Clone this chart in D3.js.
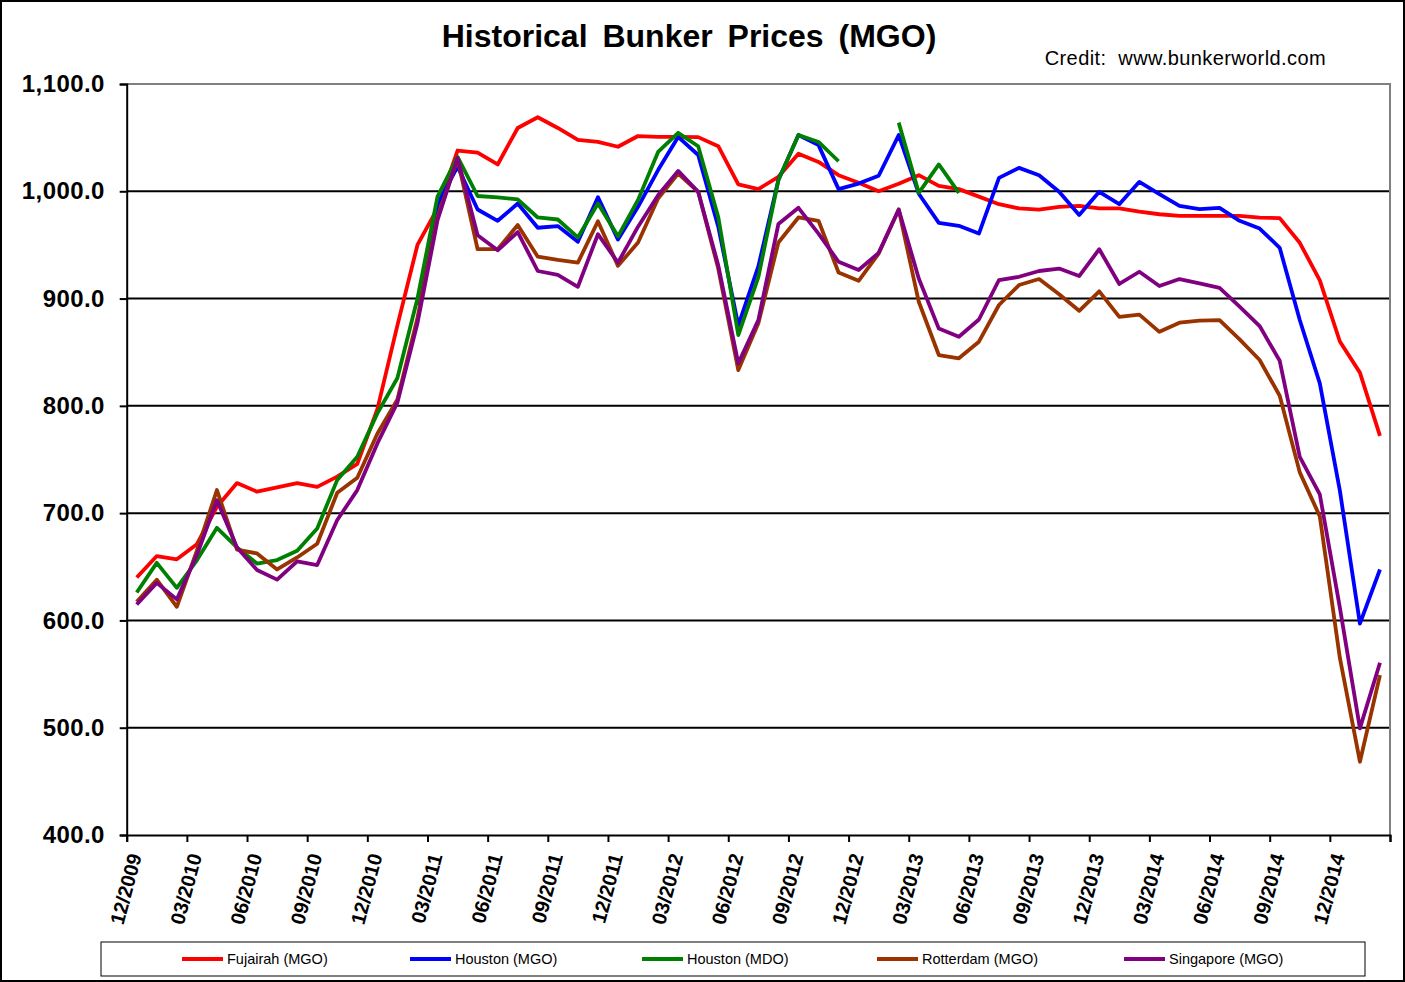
<!DOCTYPE html>
<html><head><meta charset="utf-8">
<script src="https://cdn.jsdelivr.net/npm/d3@7"></script>
<style>
body{margin:0;background:#fff;}
svg{display:block;font-family:Arial,"Liberation Sans",sans-serif;}
</style>
</head><body>
<svg id="c" width="1405" height="982"></svg>
<script>
const months = ["12/2009","01/2010","02/2010","03/2010","04/2010","05/2010","06/2010","07/2010","08/2010","09/2010","10/2010","11/2010",
"12/2010","01/2011","02/2011","03/2011","04/2011","05/2011","06/2011","07/2011","08/2011","09/2011","10/2011","11/2011",
"12/2011","01/2012","02/2012","03/2012","04/2012","05/2012","06/2012","07/2012","08/2012","09/2012","10/2012","11/2012",
"12/2012","01/2013","02/2013","03/2013","04/2013","05/2013","06/2013","07/2013","08/2013","09/2013","10/2013","11/2013",
"12/2013","01/2014","02/2014","03/2014","04/2014","05/2014","06/2014","07/2014","08/2014","09/2014","10/2014","11/2014",
"12/2014","01/2015","02/2015"];

const fujairahMGO = [640,660,657,671,706,728,720,724,728,724.5,734,746,
797,875,950,984,1038,1036,1025,1059,1069,1059,1048,1046,
1041.5,1051.5,1050.7,1050.7,1050.5,1042,1006.5,1002,1013.5,1035,1027.4,1015,
1008,1000,1007,1015,1005,1002,995,988,984,983,985.5,986.4,
984,984,981,978.6,977,977,977,977,975.5,975,952,917,
860,831,772];

const houstonMGO = [null,null,null,null,null,null,null,null,null,null,null,null,
null,null,894,988,1023,983,972.5,988.6,966,967.6,953,994.5,
955,985.5,1019.8,1050.7,1033.8,967,875,930,1010.5,1052.4,1043,1002,
1007.2,1014.5,1052.4,997.7,970.5,967.8,960.6,1012.5,1021.8,1015,999.5,978,
999.5,988,1008.8,997.4,986.5,983.4,984.6,972.5,965.3,947.3,880,821,
721,597,647.5];

const houstonMDO = [626,653.7,630.4,656,686.3,668,653,656.3,665,685.7,731,752.5,
793,826,900,995,1032,995.6,994.3,992.4,975.6,973.7,957,988.6,
958,992,1036.7,1054.5,1042,976,866,920,1010.5,1052.4,1046,1028,
null,null,1064,998.5,1025,998.5,null,null,null,null,null,null,
null,null,null,null,null,null,null,null,null,null,null,null,
null,null,null];

const rotterdamMGO = [617.4,638,612.7,665,721.5,666,662.4,647.5,658.7,671.5,719,733,
774,806,882,976,1030,946,946,968.5,939,936,933.5,972,
930.5,952.3,993.3,1016.6,999.5,928,833.4,877,952.3,975.6,972.5,924.3,
916.5,942,983,897,847.4,844.3,859.8,894,912.6,918.2,904,888.6,
906.7,883,885,869,877.5,879.4,880,862,842.7,809.4,738,697,
565,468.3,549];

const singaporeMGO = [614.8,635,619.6,661,712,668,647,638,655,651.6,693.6,721.5,
765,803,877,973,1031,959,945,962,925.7,922,911,960,
933.5,967,996.4,1019,999.5,931,839.6,880,969.5,984.6,960.6,934.3,
926.6,942.6,983,918.7,872,864.4,880.5,917.3,920.3,925.7,928,921,
946,913.6,925,911.7,918.2,914.2,910,892.4,874.4,842,752.5,717.4,
612,499.4,560.5];

const seriesNames = ["Fujairah (MGO)","Houston (MGO)","Houston (MDO)","Rotterdam (MGO)","Singapore (MGO)"];
const seriesColors = ["#FF0000","#0000FF","#008000","#993300","#800080"];
const seriesValues = [fujairahMGO, houstonMGO, houstonMDO, rotterdamMGO, singaporeMGO];
const drawOrder = [0,1,2,3,4];

const yTicks = [400,500,600,700,800,900,1000,1100];
const gridVals = [500,600,700,800,900,1000];

const W = 1405, H = 982;
const m = {l:126.7, r:1390, t:84, b:835};

const svg = d3.select("#c");
svg.append("rect").attr("x",1).attr("y",1).attr("width",W-2).attr("height",H-2)
  .attr("fill","#fff").attr("stroke","#000").attr("stroke-width",2);

const x = d3.scaleLinear().domain([0, months.length]).range([m.l, m.r]);
const y = d3.scaleLinear().domain([400, 1100]).range([m.b, m.t]);

// gridlines
svg.append("g").selectAll("line").data(gridVals).join("line")
  .attr("x1", m.l).attr("x2", m.r)
  .attr("y1", d => y(d)).attr("y2", d => y(d))
  .attr("stroke", "#000").attr("stroke-width", 2);

// plot border top/right
svg.append("path")
  .attr("d", `M${m.l},${y(1100)}H${m.r}V${m.b}`)
  .attr("fill","none").attr("stroke","#808080").attr("stroke-width",2);

// series
const line = d3.line()
  .defined(d => d.v != null)
  .x(d => x(d.i + 0.5))
  .y(d => y(d.v));

drawOrder.forEach(k => {
  const data = seriesValues[k].map((v,i) => ({i, v}));
  svg.append("path").datum(data)
    .attr("d", line)
    .attr("fill","none")
    .attr("stroke", seriesColors[k])
    .attr("stroke-width", 3.8)
    .attr("stroke-linejoin","round");
});

// y axis
const yAxis = d3.axisLeft(y).tickValues(yTicks).tickFormat(d3.format(",.1f")).tickSize(7).tickPadding(15);
const gy = svg.append("g").attr("transform", `translate(${m.l},0)`).call(yAxis);
gy.select(".domain").attr("stroke","#000").attr("stroke-width",2);
gy.selectAll(".tick line").attr("stroke","#000").attr("stroke-width",2);
gy.selectAll(".tick text").attr("font-size",24).attr("font-weight","bold").attr("fill","#000")
  .attr("letter-spacing","0.4px")
  .attr("font-family","Arial, 'Liberation Sans', sans-serif");

// x axis
const xAxis = d3.axisBottom(x).tickValues(d3.range(0, months.length + 1, 3))
  .tickFormat(i => months[i] || "").tickSize(7);
const gx = svg.append("g").attr("transform", `translate(0,${m.b})`).call(xAxis);
gx.select(".domain").attr("stroke","#000").attr("stroke-width",2);
gx.selectAll(".tick line").attr("stroke","#000").attr("stroke-width",2);
gx.selectAll(".tick text")
  .attr("font-size",20).attr("font-weight","bold").attr("fill","#000")
  .attr("font-family","Arial, 'Liberation Sans', sans-serif")
  .attr("text-anchor","end")
  .attr("x",0).attr("y",0).attr("dy","0.35em")
  .attr("transform","translate(8,19) rotate(-75)");

// title
svg.append("text").attr("x", 689).attr("y", 47).attr("text-anchor","middle")
  .attr("font-size",32).attr("font-weight","bold").attr("word-spacing","6px")
  .text("Historical Bunker Prices (MGO)");
svg.append("text").attr("x", 1326).attr("y", 65).attr("text-anchor","end")
  .attr("font-size",20).attr("letter-spacing","0.4px").attr("xml:space","preserve")
  .text("Credit:  www.bunkerworld.com");

// legend
const legendX = [182, 410, 642, 877, 1124];
svg.append("rect").attr("x",101).attr("y",942).attr("width",1264).attr("height",34)
  .attr("fill","#fff").attr("stroke","#000").attr("stroke-width",1);
const lg = svg.append("g").selectAll("g").data(seriesNames).join("g")
  .attr("transform",(d,i)=>`translate(${legendX[i]},959)`);
lg.append("line").attr("x1",0).attr("x2",41).attr("y1",0).attr("y2",0)
  .attr("stroke",(d,i)=>seriesColors[i]).attr("stroke-width",3.8);
lg.append("text").attr("x",45).attr("y",0).attr("dy","0.35em").attr("font-size",14.5)
  .text(d=>d);
</script>
</body></html>
